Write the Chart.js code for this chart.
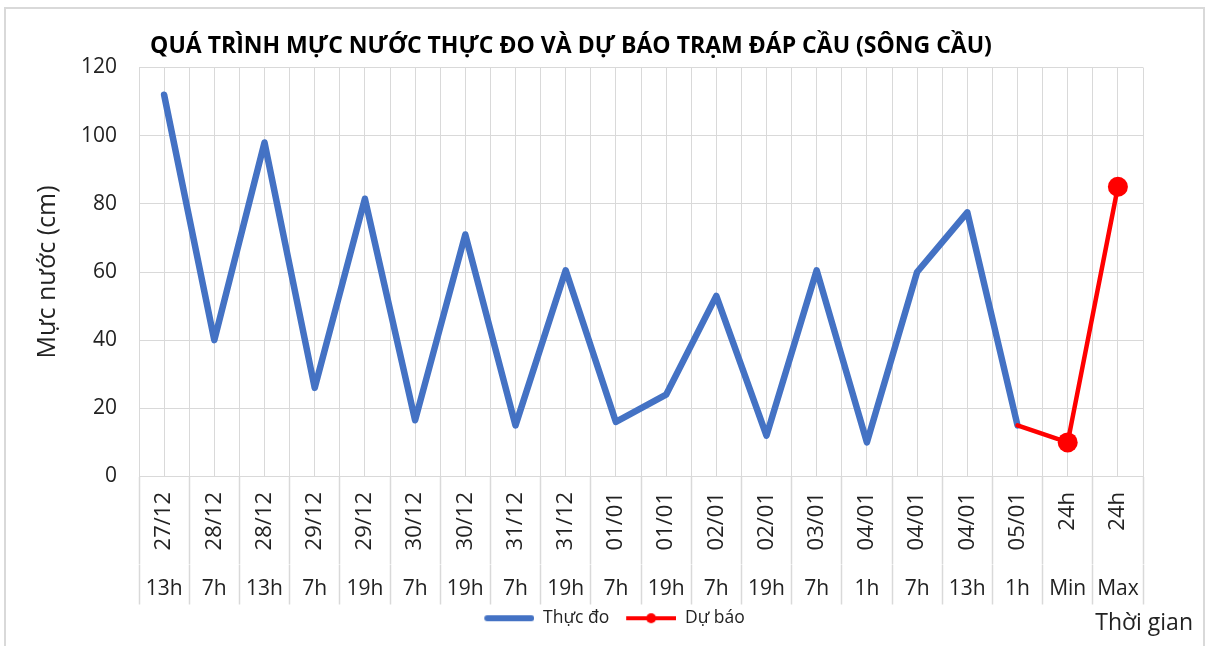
<!DOCTYPE html>
<html>
<head>
<meta charset="utf-8">
<script src="https://cdn.jsdelivr.net/npm/chart.js@4.4.1/dist/chart.umd.min.js"></script>
<style>
html,body{margin:0;padding:0;background:#fff;}
#wrap{position:relative;width:1217px;height:646px;overflow:hidden;background:#fff;}
#frame{position:absolute;left:4px;top:7px;width:1201px;height:700px;border:2px solid #d9d9d9;box-sizing:border-box;pointer-events:none;}
canvas{position:absolute;left:0;top:0;}
</style>
</head>
<body>
<div id="wrap"><canvas id="c" width="1217" height="646"></canvas><div id="frame"></div></div>
<script>
// ---- data ----
const chartTitle = 'QUÁ TRÌNH MỰC NƯỚC THỰC ĐO VÀ DỰ BÁO TRẠM ĐÁP CẦU (SÔNG CẦU)';
const yAxisTitle = 'Mực nước (cm)';
const xAxisTitle = 'Thời gian';
const dateLabels = ['27/12','28/12','28/12','29/12','29/12','30/12','30/12','31/12','31/12','01/01','01/01','02/01','02/01','03/01','04/01','04/01','04/01','05/01','24h','24h'];
const hourLabels = ['13h','7h','13h','7h','19h','7h','19h','7h','19h','7h','19h','7h','19h','7h','1h','7h','13h','1h','Min','Max'];
const observedName = 'Thực đo';
const observed = [112, 40, 98, 26, 81.5, 16.5, 71, 15, 60.5, 16, 24, 53, 12, 60.5, 10, 60, 77.5, 15, null, null];
const forecastName = 'Dự báo';
const forecast = [null, null, null, null, null, null, null, null, null, null, null, null, null, null, null, null, null, 15, 10, 85];
const yMin = 0, yMax = 120, yStep = 20;

// ---- styles ----
const FONT = '"Open Sans", "Liberation Sans", sans-serif';
const gridColor = '#d9d9d9';
const textColor = '#222222';
const blue = '#4472C4';
const red = '#FF0000';
Chart.defaults.font.family = FONT;

const firstForecastIndex = forecast.findIndex(v => v !== null);

function legendIcon(color, width, withDot) {
  const c = document.createElement('canvas');
  c.width = 62; c.height = 22;
  const g = c.getContext('2d');
  g.strokeStyle = color; g.fillStyle = color; g.lineWidth = width;
  g.lineCap = withDot ? 'butt' : 'round';
  g.beginPath();
  if (withDot) { g.moveTo(12, 11); g.lineTo(62, 11); }
  else { g.moveTo(15, 11); g.lineTo(59, 11); }
  g.stroke();
  if (withDot) { g.beginPath(); g.arc(37, 11, 5, 0, Math.PI * 2); g.fill(); }
  return c;
}

const textPlugin = {
  id: 'texts',
  afterDraw(chart) {
    const {ctx, chartArea} = chart;
    ctx.save();
    let size = 26;
    ctx.font = `bold ${size}px ${FONT}`;
    const w = ctx.measureText(chartTitle).width;
    size = Math.min(26, size * 842 / w);
    ctx.font = `bold ${size}px ${FONT}`;
    ctx.fillStyle = '#000';
    ctx.textAlign = 'center';
    ctx.textBaseline = 'alphabetic';
    ctx.fillText(chartTitle, chartArea.left + 432, 52.5);
    ctx.font = `23px ${FONT}`;
    ctx.fillStyle = textColor;
    ctx.textAlign = 'right';
    ctx.fillText(xAxisTitle, chartArea.right + 50, 630);
    ctx.restore();
  }
};

new Chart(document.getElementById('c'), {
  type: 'line',
  data: {
    labels: dateLabels,
    datasets: [
      { label: observedName, data: observed, borderColor: blue, backgroundColor: blue,
        borderWidth: 6.5, pointRadius: 0, pointHoverRadius: 0, tension: 0,
        borderCapStyle: 'round', borderJoinStyle: 'round', order: 1 },
      { label: forecastName, data: forecast, borderColor: red, backgroundColor: red,
        borderWidth: 4.5, tension: 0, borderCapStyle: 'round', borderJoinStyle: 'round',
        pointRadius: ctx => (ctx.dataIndex > firstForecastIndex ? 10 : 0),
        pointHoverRadius: ctx => (ctx.dataIndex > firstForecastIndex ? 10 : 0),
        pointBorderWidth: 0, pointBackgroundColor: red, order: 0 }
    ]
  },
  options: {
    responsive: false,
    animation: false,
    devicePixelRatio: 1,
    layout: { padding: { top: 67.5, left: 0, right: 0, bottom: 9 } },
    plugins: {
      title: { display: false },
      tooltip: { enabled: false },
      legend: {
        position: 'bottom', align: 'center',
        labels: {
          usePointStyle: true, pointStyleWidth: 62, padding: 5,
          font: { size: 17.5, family: FONT }, color: textColor,
          generateLabels(chart) {
            return chart.data.datasets.map((ds, i) => ({
              text: ds.label,
              pointStyle: legendIcon(ds.borderColor, i === 0 ? 6 : 4, i === 1),
              fillStyle: ds.borderColor, strokeStyle: ds.borderColor, lineWidth: 0,
              hidden: false, datasetIndex: i, fontColor: textColor
            }));
          }
        }
      }
    },
    scales: {
      x: {
        type: 'category', position: 'bottom', weight: 0, offset: true,
        grid: { offset: true, color: gridColor, lineWidth: 1, drawTicks: true, tickLength: 88, tickColor: gridColor, tickWidth: 1.5 },
        border: { display: true, color: gridColor, width: 1 },
        ticks: { autoSkip: false, minRotation: 90, maxRotation: 90, padding: -72.5, font: { size: 22 }, color: textColor },
        afterFit(s) { s.height = 88; }
      },
      xh: {
        type: 'category', labels: hourLabels, position: 'bottom', weight: 1, offset: true,
        grid: { offset: true, drawOnChartArea: false, drawTicks: true, tickLength: 40, color: gridColor, tickColor: gridColor, tickWidth: 1.5 },
        border: { display: false },
        ticks: { autoSkip: false, minRotation: 0, maxRotation: 0, padding: -27.6, font: { size: 21 }, color: textColor },
        afterFit(s) { s.height = 40; }
      },
      xc: {
        type: 'category', labels: dateLabels, position: 'bottom', weight: 2, offset: true,
        grid: { offset: false, color: gridColor, lineWidth: 1, drawTicks: false },
        border: { display: false },
        ticks: { display: false },
        afterFit(s) { s.height = 0; }
      },
      y: {
        type: 'linear', position: 'left', min: yMin, max: yMax,
        ticks: { stepSize: yStep, padding: 22, font: { size: 21 }, color: textColor },
        grid: { color: gridColor, lineWidth: 1, drawTicks: false },
        border: { display: false },
        title: { display: true, text: yAxisTitle, font: { size: 25 }, color: textColor, padding: { top: 33, bottom: 0 } },
        afterFit(s) { s.width = 139; }
      },
      y2: {
        type: 'linear', position: 'right', display: true,
        grid: { display: false, drawTicks: false },
        border: { display: false },
        ticks: { display: false },
        afterFit(s) { s.width = 74; }
      }
    }
  },
  plugins: [textPlugin]
});
</script>
</body>
</html>
